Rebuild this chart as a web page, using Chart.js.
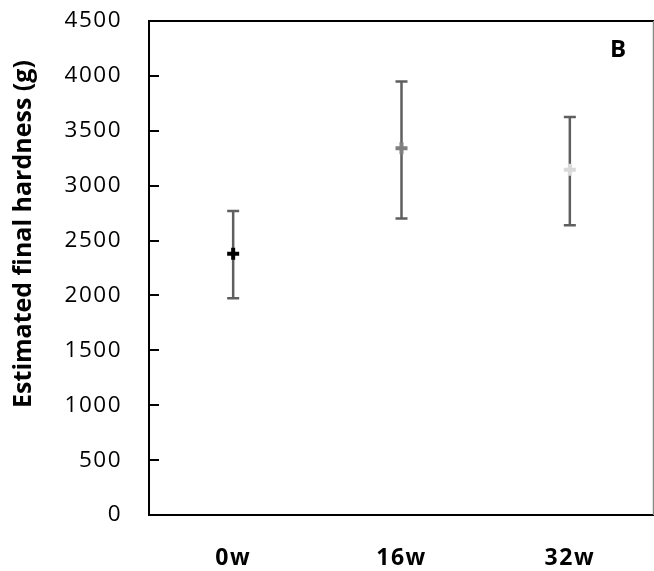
<!DOCTYPE html>
<html>
<head>
<meta charset="utf-8">
<script src="https://cdn.jsdelivr.net/npm/chart.js@4/dist/chart.umd.min.js"></script>
<style>
html,body{margin:0;padding:0;background:#fff;}
#wrap{width:654px;height:571px;}
</style>
</head>
<body>
<div id="wrap"><canvas id="c" width="654" height="571"></canvas></div>
<script>
const categories = ["0w", "16w", "32w"];
const meanValues = [2380, 3340, 3145];
const lowerValues = [1975, 2700, 2640];
const upperValues = [2770, 3950, 3625];
const yTicks = [0, 500, 1000, 1500, 2000, 2500, 3000, 3500, 4000, 4500];
const markerColors = ["#000000", "#808080", "#d9d9d9"];
const panelLabel = "B";
const yTitle = "Estimated final hardness (g)";

const FONT = "'Open Sans', 'Liberation Sans', sans-serif";

// slightly wider tick label spacing
const origDrawLabels = Chart.Scale.prototype.drawLabels;
Chart.Scale.prototype.drawLabels = function (area) {
  const ctx = this.ctx;
  const prev = ctx.letterSpacing;
  ctx.letterSpacing = '1.5px';
  origDrawLabels.call(this, area);
  ctx.letterSpacing = prev || '0px';
};

const extras = {
  id: 'extras',
  beforeDatasetsDraw(chart) {
    const ctx = chart.ctx;
    const x = chart.scales.x, y = chart.scales.y;
    ctx.save();
    ctx.strokeStyle = '#5f5f5f';
    ctx.lineWidth = 2.5;
    for (let i = 0; i < categories.length; i++) {
      const px = x.getPixelForValue(i);
      const lo = y.getPixelForValue(lowerValues[i]);
      const hi = y.getPixelForValue(upperValues[i]);
      ctx.beginPath();
      ctx.moveTo(px, lo); ctx.lineTo(px, hi);
      ctx.moveTo(px - 6, lo); ctx.lineTo(px + 6, lo);
      ctx.moveTo(px - 6, hi); ctx.lineTo(px + 6, hi);
      ctx.stroke();
    }
    ctx.restore();
  },
  afterDraw(chart) {
    const ctx = chart.ctx;
    const a = chart.chartArea;
    const y = chart.scales.y;
    ctx.save();
    ctx.strokeStyle = '#000';
    ctx.lineWidth = 2;
    yTicks.forEach(v => {
      const py = Math.round(y.getPixelForValue(v));
      ctx.beginPath();
      ctx.moveTo(a.left, py); ctx.lineTo(a.left + 10, py);
      ctx.stroke();
    });
    ctx.beginPath();
    ctx.moveTo(a.left - 1, a.top); ctx.lineTo(a.right, a.top);
    ctx.stroke();
    ctx.strokeStyle = '#888';
    ctx.lineWidth = 1.5;
    ctx.beginPath();
    ctx.moveTo(a.right - 0.5, a.top); ctx.lineTo(a.right - 0.5, a.bottom);
    ctx.stroke();
    ctx.fillStyle = '#000';
    ctx.font = "bold 24px " + FONT;
    ctx.textAlign = 'center';
    ctx.textBaseline = 'middle';
    ctx.fillText(panelLabel, 618, 50);
    // y-axis title (placed slightly above the axis centre, as in the original)
    ctx.translate(24, 234);
    ctx.rotate(-Math.PI / 2);
    ctx.font = "bold 25px " + FONT;
    ctx.fillText(yTitle, 0, 0);
    ctx.restore();
  }
};

function zeroPad(s) { s.paddingLeft = 0; s.paddingRight = 0; s.paddingTop = 0; s.paddingBottom = 0; }

new Chart(document.getElementById('c'), {
  type: 'line',
  data: {
    labels: categories,
    datasets: [{
      data: meanValues,
      showLine: false,
      pointStyle: 'cross',
      pointRadius: 6,
      pointHoverRadius: 6,
      pointBorderWidth: 4,
      pointBorderColor: markerColors,
      pointBackgroundColor: markerColors
    }]
  },
  options: {
    responsive: false,
    animation: false,
    events: [],
    layout: { autoPadding: false, padding: { top: 21, right: 0, left: 0, bottom: 0 } },
    plugins: { legend: { display: false }, tooltip: { enabled: false } },
    scales: {
      x: {
        type: 'category',
        offset: true,
        grid: { display: true, drawOnChartArea: false, drawTicks: false },
        border: { display: true, color: '#000', width: 2 },
        ticks: { color: '#000', padding: 30, font: { family: FONT, size: 23, weight: 'bold' } },
        afterFit(s) { s.height = 56; zeroPad(s); }
      },
      y: {
        min: 0, max: 4500,
        afterBuildTicks(s) { s.ticks = yTicks.map(v => ({ value: v })); },
        grid: { display: true, drawOnChartArea: false, drawTicks: false },
        border: { display: true, color: '#000', width: 2 },
        ticks: {
          color: '#000', padding: 27,
          font: { family: FONT, size: 22.5 },
          callback: (v) => String(v)
        },
        title: { display: false },
        afterFit(s) { s.width = 149; zeroPad(s); }
      }
    }
  },
  plugins: [extras]
});
</script>
</body>
</html>
